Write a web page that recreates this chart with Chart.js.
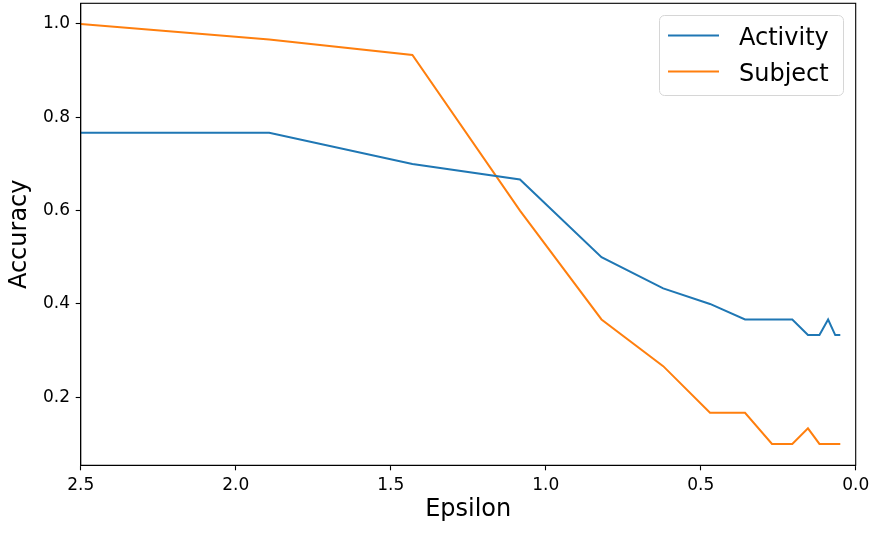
<!DOCTYPE html>
<html>
<head>
<meta charset="utf-8">
<script src="https://cdn.jsdelivr.net/npm/chart.js@4.4.0/dist/chart.umd.min.js"></script>
<style>
  html, body { margin: 0; padding: 0; background: #fff; }
  #wrap { width: 880px; height: 533px; }
</style>
</head>
<body>
<div id="wrap"><canvas id="chart" width="880" height="533"></canvas></div>
<script>
// values
const epsilon  = [2.5, 1.892, 1.430, 1.083, 0.820, 0.621, 0.470, 0.357, 0.270, 0.2045, 0.154, 0.117, 0.089, 0.066, 0.0497];
const activity = [0.7667, 0.7667, 0.7, 0.6667, 0.5, 0.4333, 0.4, 0.3667, 0.3667, 0.3667, 0.3333, 0.3333, 0.3667, 0.3333, 0.3333];
const subject  = [1.0, 0.9667, 0.9333, 0.6, 0.3667, 0.2667, 0.1667, 0.1667, 0.1, 0.1, 0.1333, 0.1, 0.1, 0.1, 0.1];

const seriesNames  = ['Activity', 'Subject'];
const seriesColors = ['#1f77b4', '#ff7f0e'];

const xTicks = [0.0, 0.5, 1.0, 1.5, 2.0, 2.5];
const yTicks = [0.2, 0.4, 0.6, 0.8, 1.0];

const FONT = "'DejaVu Sans', sans-serif";

// ── plugins ────────────────────────────────────────────────────────────────

// full box around the plot, like matplotlib spines
const frame = {
  id: 'frame',
  afterDatasetsDraw(chart) {
    const { ctx, chartArea: a } = chart;
    ctx.save();
    ctx.strokeStyle = '#000';
    ctx.lineWidth = 1.1;
    ctx.strokeRect(a.left, a.top, a.right - a.left, a.bottom - a.top);
    ctx.restore();
  }
};

// legend in the upper-right corner, inside the axes
const cornerLegend = {
  id: 'cornerLegend',
  afterDraw(chart) {
    const ctx = chart.ctx;
    const x = 659.5, y = 15.5, w = 184, h = 80, r = 5;
    ctx.save();
    ctx.beginPath();
    ctx.roundRect(x, y, w, h, r);
    ctx.fillStyle = 'rgba(255,255,255,0.8)';
    ctx.fill();
    ctx.strokeStyle = '#d6d6d6';
    ctx.lineWidth = 1;
    ctx.stroke();

    ctx.font = '24px ' + FONT;
    ctx.textBaseline = 'alphabetic';
    ctx.fillStyle = '#000';
    chart.data.datasets.forEach((ds, i) => {
      const ly = 35.5 + i * 36;
      ctx.strokeStyle = ds.borderColor;
      ctx.lineWidth = 2;
      ctx.beginPath();
      ctx.moveTo(668, ly);
      ctx.lineTo(719, ly);
      ctx.stroke();
      ctx.fillText(ds.label, 739, ly + 9);
    });
    ctx.restore();
  }
};

function fixTicks(list) {
  return scale => { scale.ticks = list.map(v => ({ value: v })); };
}

function noPad(size) {
  return scale => {
    if (scale.isHorizontal()) scale.height = size; else scale.width = size;
    scale.paddingTop = scale.paddingBottom = scale.paddingLeft = scale.paddingRight = 0;
  };
}

new Chart(document.getElementById('chart'), {
  type: 'line',
  data: {
    datasets: [
      {
        label: seriesNames[0],
        data: epsilon.map((e, i) => ({ x: e, y: activity[i] })),
        borderColor: seriesColors[0],
        backgroundColor: seriesColors[0],
        borderWidth: 2,
        pointRadius: 0,
        tension: 0
      },
      {
        label: seriesNames[1],
        data: epsilon.map((e, i) => ({ x: e, y: subject[i] })),
        borderColor: seriesColors[1],
        backgroundColor: seriesColors[1],
        borderWidth: 2,
        pointRadius: 0,
        tension: 0
      }
    ]
  },
  options: {
    responsive: false,
    animation: false,
    devicePixelRatio: 1,
    layout: { padding: { left: 0, right: 24.3, top: 3.3, bottom: 0 } },
    plugins: {
      legend: { display: false },
      tooltip: { enabled: false }
    },
    scales: {
      x: {
        type: 'linear',
        reverse: true,
        min: 0,
        max: 2.5,
        afterBuildTicks: fixTicks(xTicks),
        afterFit: noPad(533 - 465.3),
        grid: { display: true, drawOnChartArea: false, drawTicks: true, tickLength: 5, tickColor: '#000', tickWidth: 1.1 },
        border: { display: true, color: '#000', width: 1.1 },
        ticks: {
          color: '#000',
          padding: 5,
          maxRotation: 0,
          autoSkip: false,
          font: { family: FONT, size: 17 },
          callback: v => v.toFixed(1)
        },
        title: {
          display: true,
          text: 'Epsilon',
          color: '#000',
          font: { family: FONT, size: 24 },
          padding: { top: 0, bottom: 9 }
        }
      },
      y: {
        type: 'linear',
        min: 0.0542,
        max: 1.0442,
        afterBuildTicks: fixTicks(yTicks),
        afterFit: noPad(80.7),
        grid: { display: true, drawOnChartArea: false, drawTicks: true, tickLength: 5, tickColor: '#000', tickWidth: 1.1 },
        border: { display: true, color: '#000', width: 1.1 },
        ticks: {
          color: '#000',
          padding: 5.7,
          autoSkip: false,
          font: { family: FONT, size: 17 },
          callback: v => v.toFixed(1)
        },
        title: {
          display: true,
          text: 'Accuracy',
          color: '#000',
          font: { family: FONT, size: 24 },
          padding: { top: 5, bottom: 0 }
        }
      }
    }
  },
  plugins: [frame, cornerLegend]
});
</script>
</body>
</html>
